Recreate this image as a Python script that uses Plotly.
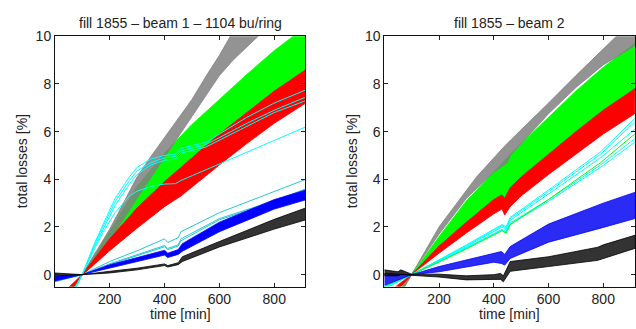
import plotly.graph_objects as go

# ---------------- beam 1 (left) ----------------
g1_t_up = [20, 100, 150, 200, 250, 300, 350, 400, 450, 500, 550, 600, 650, 700]
g1_up = [-1.5, 0, 0.95, 1.9, 3.0, 4.1, 4.95, 5.75, 6.5, 7.35, 8.3, 9.2, 10.2, 11.1]
g1_t_lo = [20, 100, 150, 200, 250, 300, 350, 400, 450, 500, 550, 600, 650, 700, 750, 800]
g1_lo = [-1.1, 0, 0.7, 1.45, 2.3, 3.2, 4.1, 4.95, 5.8, 6.6, 7.5, 8.35, 9.0, 9.55, 10.1, 10.6]

gr1_t = [20, 100, 200, 300, 400, 460, 500, 600, 700, 800, 915]
gr1_up = [-1.6, 0, 1.8, 3.7, 5.1, 5.8, 6.3, 7.35, 8.4, 9.4, 10.4]
gr1_lo = [-0.9, 0, 1.2, 2.3, 3.3, 3.9, 4.3, 5.2, 6.1, 7.0, 7.9]

r1_t = [20, 100, 200, 300, 400, 460, 500, 600, 700, 800, 915]
r1_up = [-1.3, 0, 1.5, 2.8, 3.9, 4.5, 4.9, 5.9, 6.8, 7.7, 8.6]
r1_lo = [-0.85, 0, 1.0, 1.95, 2.85, 3.3, 3.65, 4.6, 5.5, 6.35, 7.2]

c1_t = [20, 100, 150, 180, 220, 272, 300, 350, 400, 440, 460, 550, 700, 800, 915]
c1_a = [-2.0, 0, 1.45, 2.2, 3.2, 4.1, 4.5, 4.85, 5.0, 5.05, 5.3, 5.55, 6.6, 7.2, 7.75]
c1_b = [-1.9, 0, 1.4, 2.1, 3.05, 3.95, 4.35, 4.7, 4.9, 4.95, 5.2, 5.45, 6.35, 6.9, 7.45]
c1_c = [-1.8, 0, 1.3, 2.0, 2.9, 3.8, 4.2, 4.6, 4.8, 4.85, 5.1, 5.35, 6.2, 6.8, 7.3]
c1_d = [-1.7, 0, 1.2, 1.85, 2.6, 3.3, 3.5, 3.7, 3.8, 3.82, 3.95, 4.4, 5.15, 5.65, 6.2]

lc1_t = [0, 100, 200, 300, 400, 412, 450, 460, 600, 800, 915]
lc1_a = [-0.3, 0, 0.55, 1.0, 1.5, 1.35, 1.55, 1.8, 2.6, 3.5, 4.0]
lc1_b = [-0.25, 0, 0.45, 0.82, 1.22, 1.1, 1.25, 1.5, 2.35, 3.1, 3.6]
lc1_c = [-0.25, 0, 0.42, 0.78, 1.17, 1.05, 1.2, 1.42, 2.3, 3.05, 3.55]

b1_t = [0, 100, 200, 300, 400, 412, 450, 465, 600, 800, 915]
b1_up = [-0.07, 0, 0.41, 0.72, 1.02, 0.9, 1.05, 1.3, 2.2, 3.15, 3.55]
b1_lo = [-0.27, 0, 0.27, 0.55, 0.82, 0.72, 0.85, 0.98, 1.8, 2.75, 3.14]

k1_t = [0, 100, 200, 300, 400, 412, 450, 465, 600, 800, 915]
k1_up = [0.07, 0, 0.14, 0.27, 0.45, 0.38, 0.5, 0.75, 1.39, 2.32, 2.8]
k1_lo = [-0.05, 0, 0.07, 0.2, 0.38, 0.32, 0.42, 0.55, 1.16, 1.91, 2.3]

# ---------------- beam 2 (right) ----------------
g2_t_up = [20, 100, 200, 337, 440, 600, 700, 848, 915]
g2_up = [-1.6, 0, 2.0, 4.1, 5.4, 7.2, 8.35, 10.0, 10.75]
g2_t_lo = [20, 100, 200, 300, 400, 450, 460, 600, 700, 800, 915]
g2_lo = [-1.3, 0, 1.7, 3.2, 4.3, 4.7, 5.0, 6.75, 7.85, 8.8, 9.6]

gr2_t = [20, 100, 200, 300, 400, 460, 600, 700, 800, 915]
gr2_up = [-1.4, 0, 1.6, 3.1, 4.3, 5.05, 6.6, 7.7, 8.7, 9.7]
gr2_lo = [-0.8, 0, 1.05, 2.0, 2.85, 3.25, 4.6, 5.5, 6.4, 7.3]

r2_t = [20, 100, 200, 300, 400, 430, 440, 460, 500, 600, 700, 800, 915]
r2_up = [-1.0, 0, 1.2, 2.2, 3.15, 3.35, 3.2, 3.65, 4.1, 5.05, 6.0, 6.9, 7.8]
r2_lo = [-0.7, 0, 0.9, 1.75, 2.55, 2.75, 2.5, 2.85, 3.3, 4.2, 5.05, 5.9, 6.75]

c2_t = [0, 100, 200, 300, 400, 430, 445, 460, 600, 700, 790, 915]
c2_a = [-0.6, 0, 0.62, 1.25, 1.9, 2.1, 2.0, 2.4, 3.55, 4.4, 5.15, 6.55]
c2_b = [-0.6, 0, 0.6, 1.22, 1.86, 2.06, 1.96, 2.35, 3.48, 4.3, 5.05, 6.4]
c2_c = [-0.55, 0, 0.58, 1.18, 1.8, 2.0, 1.9, 2.28, 3.38, 4.18, 4.9, 6.1]
c2_d = [-0.5, 0, 0.55, 1.12, 1.72, 1.9, 1.8, 2.17, 3.15, 3.9, 4.6, 5.7]
c2_e = [-0.5, 0, 0.54, 1.1, 1.68, 1.86, 1.76, 2.12, 3.08, 3.82, 4.5, 5.55]
c2_g = [-0.5, 0, 0.53, 1.08, 1.66, 1.84, 1.74, 2.1, 3.15, 3.95, 4.7, 5.9]

b2_t = [0, 100, 200, 300, 400, 428, 440, 460, 600, 800, 915]
b2_up = [0.05, 0, 0.34, 0.62, 0.9, 0.97, 0.85, 1.18, 2.12, 3.0, 3.45]
b2_lo = [-0.45, 0, 0.12, 0.32, 0.52, 0.47, 0.4, 0.68, 1.36, 1.98, 2.35]

k2_t = [0, 50, 60, 100, 200, 300, 400, 425, 435, 460, 600, 780, 800, 915]
k2_up = [0.2, 0.12, 0.2, 0.02, 0.02, -0.05, 0.0, 0.05, -0.05, 0.55, 0.75, 1.15, 1.25, 1.65]
k2_lo = [-0.05, -0.05, 0.0, -0.02, -0.1, -0.22, -0.2, -0.2, -0.3, 0.14, 0.34, 0.6, 0.68, 1.1]

titles = ["fill 1855 \u2013 beam 1 \u2013 1104 bu/ring", "fill 1855 \u2013 beam 2"]
x_ticks = [200, 400, 600, 800]
y_ticks = [0, 2, 4, 6, 8, 10]

fig = go.Figure()


def band(t_up, up, t_lo, lo, fill, line, xa, ya, lw=0.8):
    fig.add_trace(go.Scatter(
        x=list(t_up) + list(t_lo)[::-1], y=list(up) + list(lo)[::-1],
        fill="toself", fillcolor=fill, mode="lines",
        line=dict(color=line, width=lw), xaxis=xa, yaxis=ya,
        hoverinfo="skip", showlegend=False))


def line(t, y, color, xa, ya, w=1):
    fig.add_trace(go.Scatter(x=t, y=y, mode="lines", line=dict(color=color, width=w),
                             xaxis=xa, yaxis=ya, hoverinfo="skip", showlegend=False))


GRAY = "#808080"
GREEN = "#00ff00"
RED = "#ff0000"
CYAN = "#00ffff"
TEAL = "#22c8d2"
BLUE = "#0000ff"
BLACK = "#000000"

# left panel
band(gr1_t, gr1_up, gr1_t, gr1_lo, GREEN, GREEN, "x", "y")
band(g1_t_up, g1_up, g1_t_lo, g1_lo, "rgba(128,128,128,0.85)", GRAY, "x", "y")
band(r1_t, r1_up, r1_t, r1_lo, RED, RED, "x", "y")
for cy in (c1_a, c1_b, c1_c, c1_d):
    line(c1_t, cy, CYAN, "x", "y")
for cy in (lc1_a, lc1_b, lc1_c):
    line(lc1_t, cy, TEAL, "x", "y")
band(b1_t, b1_up, b1_t, b1_lo, BLUE, BLUE, "x", "y")
band(k1_t, k1_up, k1_t, k1_lo, "rgba(0,0,0,0.8)", BLACK, "x", "y")

# right panel
band(gr2_t, gr2_up, gr2_t, gr2_lo, GREEN, GREEN, "x2", "y2")
band(g2_t_up, g2_up, g2_t_lo, g2_lo, "rgba(128,128,128,0.85)", GRAY, "x2", "y2")
band(r2_t, r2_up, r2_t, r2_lo, RED, RED, "x2", "y2")
for cy in (c2_a, c2_b, c2_c, c2_d, c2_e):
    line(c2_t, cy, CYAN, "x2", "y2")
line(c2_t, c2_g, GREEN, "x2", "y2")
band(b2_t, b2_up, b2_t, b2_lo, "rgba(20,20,245,0.9)", BLUE, "x2", "y2")
band(k2_t, k2_up, k2_t, k2_lo, "rgba(0,0,0,0.8)", BLACK, "x2", "y2")

W, H = 636, 329
FONT = dict(family="Liberation Sans, Arial, sans-serif", size=14, color="#222222")

ax_common = dict(ticks="inside", ticklen=4, tickcolor="#222", showline=True, linecolor="#111",
                 linewidth=1, mirror="ticks", showgrid=False, zeroline=False, tickfont=FONT)
ydom = [(329 - 285.5) / H, (329 - 29) / H]
fig.update_layout(
    width=W, height=H, margin=dict(l=0, r=0, t=0, b=0),
    paper_bgcolor="white", plot_bgcolor="white", showlegend=False, font=FONT,
    xaxis=dict(domain=[55 / W, 305 / W], range=[1, 912], tickvals=x_ticks, anchor="y", **ax_common),
    yaxis=dict(domain=ydom, range=[-0.5, 10], tickvals=y_ticks, anchor="x", **ax_common),
    xaxis2=dict(domain=[384.3 / W, 635 / W], range=[0, 916], tickvals=x_ticks, anchor="y2", **ax_common),
    yaxis2=dict(domain=ydom, range=[-0.5, 10], tickvals=y_ticks, anchor="x2", **ax_common),
)

ann = []
for cx, ttl, ylx in ((180, titles[0], 22), (509.6, titles[1], 352)):
    ann.append(dict(x=cx / W, y=(H - 15) / H, xref="paper", yref="paper", text=ttl, showarrow=False,
                    xanchor="center", yanchor="middle", font=FONT))
    ann.append(dict(x=cx / W, y=(H - 314) / H, xref="paper", yref="paper", text="time [min]",
                    showarrow=False, xanchor="center", yanchor="middle", font=FONT))
    ann.append(dict(x=ylx / W, y=(H - 157) / H, xref="paper", yref="paper", text="total losses [%]",
                    showarrow=False, xanchor="center", yanchor="middle", textangle=-90, font=FONT))
fig.update_layout(annotations=ann)

fig.write_html("out.html")
